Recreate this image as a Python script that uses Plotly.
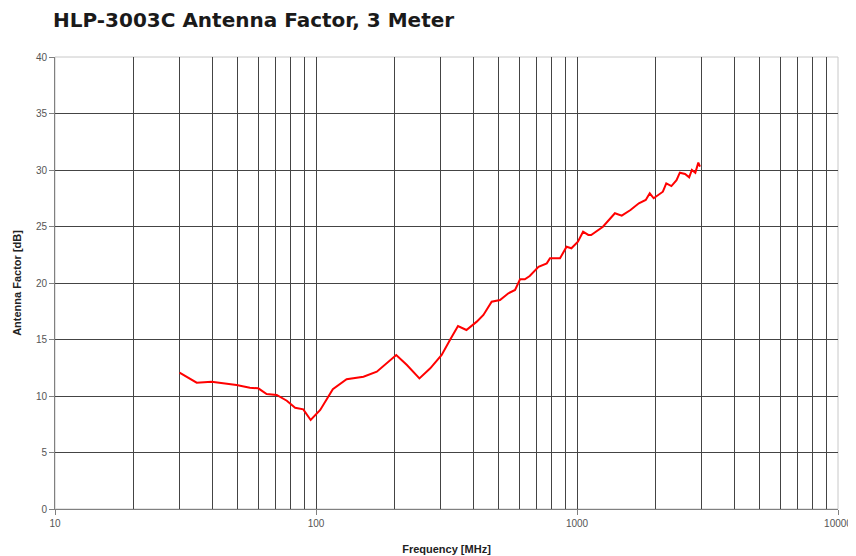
import plotly.graph_objects as go

freq_mhz = [30, 34.9, 39.8, 49.6, 55.8, 60.1, 64.7, 70.7, 77.3, 83.2, 89.4, 95.4, 103.8, 113, 116,
            131, 152, 171, 187, 203, 223, 249, 274, 303, 326, 350, 377, 413, 438, 471, 507,
            546, 579, 605, 631, 659, 712, 766, 788, 861, 912, 952, 1008, 1055, 1105, 1133,
            1257, 1397, 1484, 1603, 1726, 1834, 1900, 1967, 2133, 2198, 2300, 2406, 2478,
            2594, 2690, 2755, 2840, 2916, 2960]
antenna_factor_db = [12.07, 11.18, 11.27, 10.97, 10.74, 10.68, 10.18, 10.09, 9.58, 8.96, 8.82, 7.88, 8.76, 10.24, 10.6,
                     11.48, 11.71, 12.15, 12.89, 13.63, 12.74, 11.56, 12.45, 13.63, 14.96, 16.19, 15.84, 16.58, 17.17, 18.35, 18.5,
                     19.09, 19.38, 20.33, 20.33, 20.62, 21.44, 21.74, 22.19, 22.19, 23.21, 23.07, 23.65, 24.54, 24.25, 24.25,
                     24.98, 26.17, 25.96, 26.46, 27.05, 27.35, 27.94, 27.5, 28.08, 28.82, 28.58, 29.1, 29.76,
                     29.65, 29.35, 30.0, 29.76, 30.65, 30.3]

x_major_ticks = [10, 100, 1000, 10000]
x_tick_labels = ["10", "100", "1000", "10000"]
x_minor_ticks = [m * d for d in (10, 100, 1000) for m in range(2, 10)]
y_ticks = [0, 5, 10, 15, 20, 25, 30, 35, 40]

title_text = "HLP-3003C Antenna Factor, 3 Meter"
x_title = "Frequency [MHz]"
y_title = "Antenna Factor [dB]"

grid_col = "#444444"

# The page body adds an 8px margin, so the figure is sized to the visible area.
W, H = 848, 548

fig = go.Figure()
fig.add_trace(go.Scatter(
    x=freq_mhz, y=antenna_factor_db, mode="lines",
    line=dict(color="#ff0000", width=2), showlegend=False,
))

fig.update_layout(
    width=W, height=H,
    margin=dict(l=47, r=18, t=49, b=47, autoexpand=False),
    paper_bgcolor="white", plot_bgcolor="white",
    title=dict(text="<b>" + title_text + "</b>", xref="container", yref="container",
               x=45 / W, xanchor="left", y=1 - 12 / H, yanchor="middle",
               pad=dict(l=0, r=0, t=0, b=0),
               font=dict(family="DejaVu Sans", size=20, color="#1a1a1a")),
    xaxis=dict(
        type="log", range=[1, 4], automargin=False,
        tickvals=x_major_ticks, ticktext=x_tick_labels,
        ticks="outside", ticklen=5, tickcolor="#808080",
        showgrid=True, gridcolor=grid_col, gridwidth=1,
        minor=dict(tickvals=x_minor_ticks, showgrid=True, gridcolor=grid_col, gridwidth=1, ticks=""),
        showline=True, linecolor="#808080", linewidth=1,
        tickfont=dict(family="Liberation Sans", size=10, color="#555555"),
        title=dict(text="<b>" + x_title + "</b>", standoff=17,
                   font=dict(family="Liberation Sans", size=11, color="#222222")),
        zeroline=False,
    ),
    yaxis=dict(
        range=[0, 40], tickvals=y_ticks, automargin=False,
        ticks="outside", ticklen=5, tickcolor="#808080",
        showgrid=True, gridcolor=grid_col, gridwidth=1,
        showline=True, linecolor="#808080", linewidth=1,
        tickfont=dict(family="Liberation Sans", size=10, color="#555555"),
        title=dict(text="<b>" + y_title + "</b>", standoff=12,
                   font=dict(family="Liberation Sans", size=11, color="#222222")),
        zeroline=False,
    ),
)

fig.add_shape(type="rect", xref="paper", yref="paper", x0=0, x1=1, y0=0, y1=1,
              line=dict(color="#c8c8c8", width=1), layer="below")

fig.write_html("out.html")
